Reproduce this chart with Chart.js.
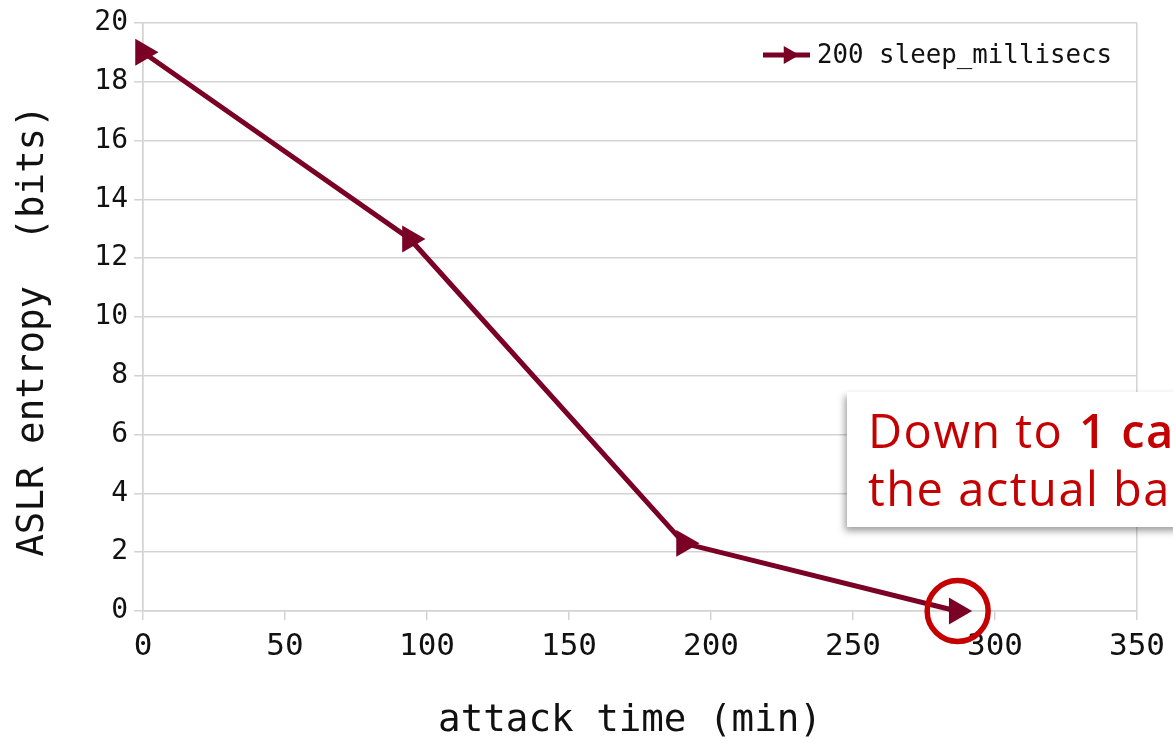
<!DOCTYPE html>
<html>
<head>
<meta charset="utf-8">
<script src="https://cdn.jsdelivr.net/npm/chart.js@4.4.1/dist/chart.umd.min.js"></script>
<style>
  html, body { margin: 0; padding: 0; background: #ffffff; }
  #wrap { width: 1173px; height: 743px; }
</style>
</head>
<body>
<div id="wrap"><canvas id="c" width="1173" height="743"></canvas></div>
<script>
// Attack time (minutes) against remaining ASLR entropy (bits)
const attackTimes = [0, 94, 190.5, 286.5];
const entropyBits = [19.0, 12.65, 2.3, 0.0];
const seriesLabel = '200 sleep_millisecs';
const xTitle = 'attack time (min)';
const yTitle = 'ASLR entropy  (bits)';
const calloutLine1 = ['Down to ', '1 ca'];
const calloutLine2 = 'the actual ba';

const LINE_COLOR = '#7a0026';
const RED = '#c40000';
const GRID = '#d3d3d3';
const TEXT = '#111111';
const MONO = '"DejaVu Sans Mono", monospace';

const points = attackTimes.map((x, i) => ({ x: x, y: entropyBits[i] }));

// Legend, axis titles, callout box and highlight ring
const overlay = {
  id: 'overlay',
  afterDraw(chart) {
    const ctx = chart.ctx;
    const xs = chart.scales.x, ys = chart.scales.y;
    ctx.save();

    // legend: line sample with right-pointing triangle
    ctx.strokeStyle = LINE_COLOR;
    ctx.lineWidth = 5;
    ctx.beginPath();
    ctx.moveTo(763, 55); ctx.lineTo(810, 55);
    ctx.stroke();
    ctx.fillStyle = LINE_COLOR;
    const r = 10.5, cx = 789, cy = 55;
    ctx.beginPath();
    ctx.moveTo(cx + r, cy);
    ctx.lineTo(cx - 0.5 * r, cy + 0.866 * r);
    ctx.lineTo(cx - 0.5 * r, cy - 0.866 * r);
    ctx.closePath();
    ctx.fill();
    ctx.fillStyle = TEXT;
    ctx.font = '25.8px ' + MONO;
    ctx.textBaseline = 'middle';
    ctx.textAlign = 'left';
    ctx.fillText(seriesLabel, 817, 56);

    // axis titles
    ctx.fillStyle = TEXT;
    ctx.font = '37.5px ' + MONO;
    ctx.textAlign = 'center';
    ctx.textBaseline = 'middle';
    ctx.fillText(xTitle, 630, 721);
    ctx.save();
    ctx.translate(33, 331);
    ctx.rotate(-Math.PI / 2);
    ctx.fillText(yTitle, 0, 0);
    ctx.restore();

    // ring around the final point
    const last = points.length - 1;
    const px = xs.getPixelForValue(points[last].x) + 1;
    const py = ys.getPixelForValue(points[last].y);
    ctx.strokeStyle = RED;
    ctx.lineWidth = 5.5;
    ctx.beginPath();
    ctx.arc(px, py, 30.5, 0, Math.PI * 2);
    ctx.stroke();

    // callout box
    ctx.save();
    ctx.shadowColor = 'rgba(0,0,0,0.38)';
    ctx.shadowBlur = 7;
    ctx.shadowOffsetX = -2;
    ctx.shadowOffsetY = 4;
    ctx.fillStyle = '#ffffff';
    ctx.fillRect(847, 392, 420, 135);
    ctx.restore();

    ctx.fillStyle = RED;
    ctx.textAlign = 'left';
    ctx.textBaseline = 'alphabetic';
    ctx.letterSpacing = '1.5px';
    ctx.font = '400 47px "Open Sans"';
    ctx.fillText(calloutLine1[0], 868, 448);
    const w = ctx.measureText(calloutLine1[0]).width;
    ctx.font = '600 47px "Open Sans"';
    ctx.fillText(calloutLine1[1], 868 + w + 2, 448);
    ctx.font = '400 47px "Open Sans"';
    ctx.fillText(calloutLine2, 868, 506);

    ctx.restore();
  }
};

new Chart(document.getElementById('c'), {
  type: 'line',
  data: {
    datasets: [{
      label: seriesLabel,
      data: points,
      borderColor: LINE_COLOR,
      backgroundColor: LINE_COLOR,
      borderWidth: 5,
      pointStyle: 'triangle',
      pointRotation: 90,
      pointRadius: 15.5,
      pointBorderWidth: 0,
      pointHoverRadius: 15.5,
      tension: 0,
      fill: false,
      clip: false
    }]
  },
  options: {
    responsive: false,
    animation: false,
    devicePixelRatio: 1,
    layout: { padding: { top: 22, right: 35, left: 0, bottom: 0 } },
    plugins: {
      legend: { display: false },
      tooltip: { enabled: false }
    },
    scales: {
      x: {
        type: 'linear',
        min: 0,
        max: 350,
        afterFit(scale) { scale.height = 132; },
        ticks: {
          stepSize: 50,
          padding: 8,
          color: TEXT,
          font: { family: MONO, size: 31 }
        },
        grid: {
          color: ctx => (ctx.tick && (ctx.tick.value === 0 || ctx.tick.value === 350)) ? GRID : 'rgba(0,0,0,0)',
          tickColor: GRID,
          lineWidth: 1.5,
          tickLength: 9
        },
        border: { display: true, color: GRID, width: 1.5 }
      },
      y: {
        min: 0,
        max: 20,
        afterFit(scale) { scale.width = 143; },
        ticks: {
          stepSize: 2,
          padding: 6,
          color: TEXT,
          font: { family: MONO, size: 28 }
        },
        grid: {
          color: GRID,
          tickColor: GRID,
          lineWidth: 1.5,
          tickLength: 9
        },
        border: { display: true, color: GRID, width: 1.5 }
      }
    }
  },
  plugins: [overlay]
});
</script>
</body>
</html>
